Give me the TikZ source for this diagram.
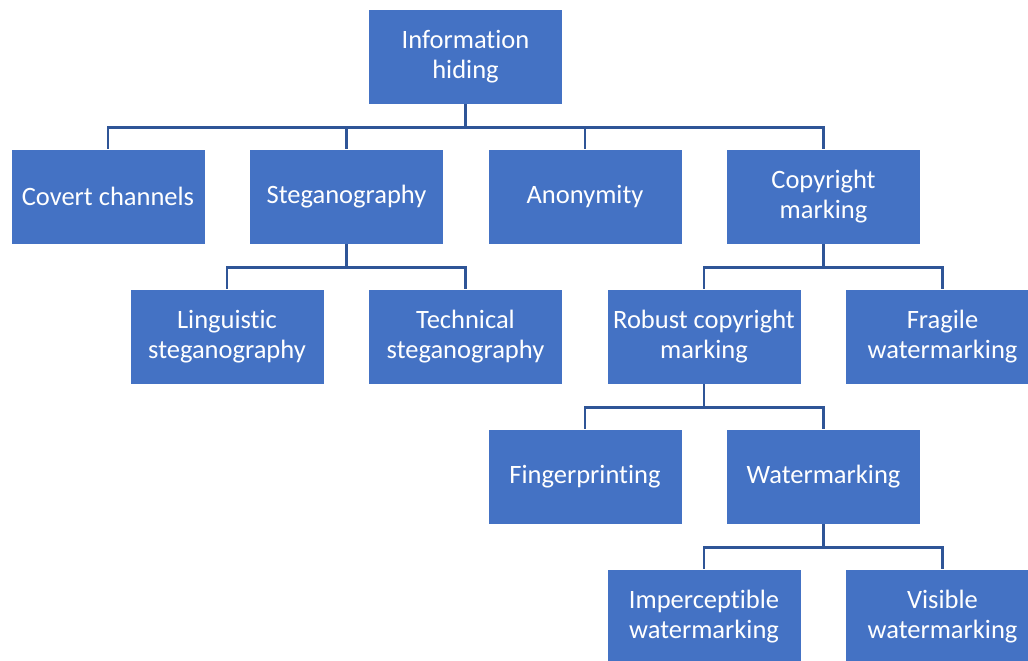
\documentclass[tikz,border=0pt]{standalone}
\usepackage{fontspec}
\setmainfont[Ligatures={NoCommon}]{Carlito}
\definecolor{boxblue}{HTML}{4472C4}
\definecolor{linkblue}{HTML}{2F5597}
\begin{document}
\begin{tikzpicture}[x=1pt,y=-1pt,
  box/.style={draw=white,line width=0.8pt,fill=boxblue,text=white,
    minimum width=194pt,minimum height=95pt,inner sep=0pt,align=center,
    font=\fontsize{26.5}{30}\selectfont},
  link/.style={draw=linkblue,line width=2.6pt}]
\useasboundingbox (0,0) rectangle (1028,661);
\clip (0,0) rectangle (1028,661);
% top level
\node[box] (ih) at (465.5,56.5) {Information\\hiding};
% second level
\node[box] (cc) at (108,196.5) {Covert channels};
\node[box] (st) at (346.5,196.5) {Steganography};
\node[box] (an) at (585,196.5) {Anonymity};
\node[box] (cm) at (823.5,196.5) {Copyright\\marking};
% third level
\node[box] (li) at (227,336.5) {Linguistic\\steganography};
\node[box] (te) at (465.5,336.5) {Technical\\steganography};
\node[box] (ro) at (704,336.5) {Robust copyright\\marking};
\node[box] (fr) at (942.5,336.5) {Fragile\\watermarking};
% fourth level
\node[box] (fi) at (585,476.5) {Fingerprinting};
\node[box] (wa) at (823.5,476.5) {Watermarking};
% fifth level
\node[box] (im) at (704,616.5) {Imperceptible\\watermarking};
\node[box] (vi) at (942.5,616.5) {Visible\\watermarking};
% connectors: down to a bus line, across, down to each child
\foreach \p/\c in {ih/cc,ih/st,ih/an,ih/cm,st/li,st/te,cm/ro,cm/fr,ro/fi,ro/wa,wa/im,wa/vi}
  \draw[link] (\p.south) -- ++(0,23) -| (\c.north);
\end{tikzpicture}
\end{document}
